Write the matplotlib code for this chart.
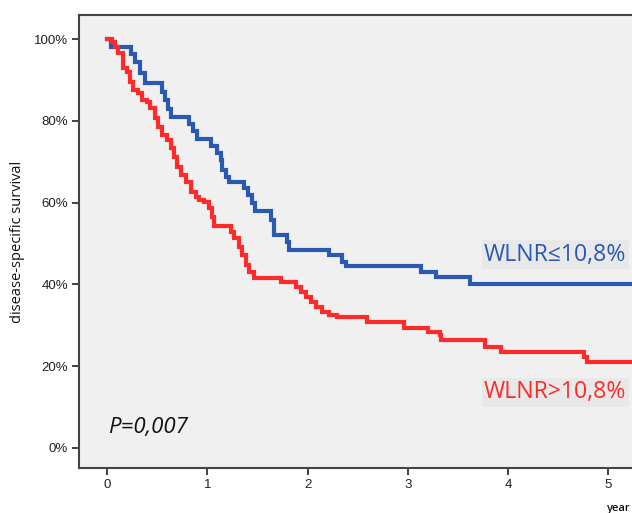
import matplotlib
matplotlib.use("Agg")
import matplotlib.pyplot as plt
import numpy as np

# ---- data ----
blue_t = [0.00, 0.04, 0.24, 0.28, 0.33, 0.38, 0.55, 0.58, 0.61, 0.64, 0.82, 0.86, 0.90,
          1.04, 1.10, 1.14, 1.15, 1.19, 1.22, 1.37, 1.41, 1.45, 1.48, 1.64, 1.67, 1.80,
          1.82, 2.21, 2.34, 2.38, 3.13, 3.28, 3.62, 5.25]
blue_s = [100.0, 98.0, 96.3, 94.3, 91.8, 89.2, 87.0, 85.0, 83.0, 81.0, 79.2, 77.5, 75.6,
          73.8, 72.1, 70.4, 68.0, 66.3, 65.0, 63.5, 61.8, 60.0, 58.0, 55.8, 52.2, 50.4,
          48.3, 47.2, 45.5, 44.6, 43.0, 41.8, 40.2, 40.2]

red_t = [0.00, 0.05, 0.08, 0.11, 0.16, 0.20, 0.23, 0.26, 0.31, 0.35, 0.40, 0.43, 0.48,
         0.51, 0.55, 0.60, 0.64, 0.67, 0.70, 0.74, 0.79, 0.84, 0.89, 0.92, 0.97, 1.02,
         1.05, 1.07, 1.24, 1.27, 1.32, 1.35, 1.39, 1.42, 1.47, 1.74, 1.88, 1.93, 1.98,
         2.03, 2.08, 2.14, 2.21, 2.29, 2.59, 2.96, 3.20, 3.32, 3.33, 3.77, 3.93, 4.76,
         4.79, 5.25]
red_s = [100.0, 99.3, 98.0, 96.6, 92.9, 91.9, 89.5, 87.5, 86.8, 85.1, 84.6, 83.1, 80.7,
         78.5, 76.5, 75.3, 73.3, 71.1, 68.7, 66.7, 65.0, 62.6, 61.4, 60.6, 60.1, 58.7,
         56.5, 54.3, 52.8, 51.3, 49.1, 47.2, 44.7, 43.0, 41.6, 40.6, 39.4, 38.1, 36.9,
         35.7, 34.5, 33.3, 32.5, 32.0, 30.7, 29.3, 28.4, 27.6, 26.4, 24.7, 23.5, 22.2,
         21.0, 21.0]

x_ticks = [0, 1, 2, 3, 4, 5]
y_ticks = [0, 20, 40, 60, 80, 100]
y_labels = ["0%", "20%", "40%", "60%", "80%", "100%"]

label_low = "WLNR≤10,8%"
label_high = "WLNR>10,8%"
p_text = "P=0,007"

BLUE = "#2a58b2"
RED = "#ff2b2b"

fig = plt.figure(figsize=(6.32, 5.13), dpi=100)
fig.patch.set_facecolor("white")
ax = fig.add_axes([79 / 632, 45 / 513, 1 - 79 / 632 + 0.01, (468 - 15) / 513])
ax.set_facecolor("#f0f0f0")

ax.step(blue_t, blue_s, where="post", color=BLUE, lw=3.0, solid_joinstyle="miter", zorder=3)
ax.step(red_t, red_s, where="post", color=RED, lw=3.0, solid_joinstyle="miter", zorder=3)

ax.set_xlim(-0.28, 5.3)
ax.set_ylim(-4.9, 105.9)

ax.set_xticks(x_ticks)
ax.set_xticklabels([str(v) for v in x_ticks], fontfamily="Liberation Sans", fontsize=9.5, color="#222222")
ax.set_yticks(y_ticks)
ax.set_yticklabels(y_labels, fontfamily="Liberation Sans", fontsize=9.5, color="#222222")
ax.tick_params(axis="both", direction="out", length=5, width=1.3, color="#333333", pad=3)

for s in ["left", "bottom", "top"]:
    ax.spines[s].set_color("#444444")
    ax.spines[s].set_linewidth(1.5)
ax.spines["right"].set_visible(False)

ax.set_ylabel("disease-specific survival", fontfamily="Open Sans", fontsize=10.5,
              color="#111111", labelpad=6)

ax.text(3.76, 47.3, label_low, color=BLUE, fontfamily="Open Sans", fontsize=16.6,
        ha="left", va="center", zorder=4,
        bbox=dict(boxstyle="square,pad=0.1", fc="#e8e8e8", ec="none"))
ax.text(3.76, 13.6, label_high, color=RED, fontfamily="Open Sans", fontsize=16.6,
        ha="left", va="center", zorder=4,
        bbox=dict(boxstyle="square,pad=0.1", fc="#e8e8e8", ec="none"))

ax.text(0.01, 5.0, p_text, color="#111111", fontfamily="Open Sans", fontstyle="italic",
        fontsize=16, ha="left", va="center")

fig.text(607 / 632, 1 - 509 / 513, "year", fontfamily="Open Sans", fontsize=8,
         fontweight="semibold", color="#111111", ha="left", va="center")

fig.savefig("out.png", dpi=100)
